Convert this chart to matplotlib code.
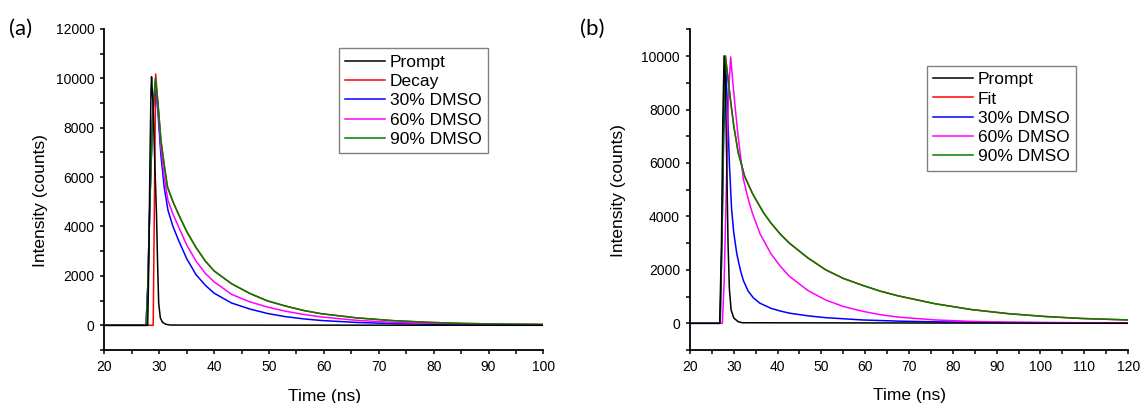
import matplotlib
matplotlib.use('Agg')
import matplotlib.pyplot as plt
from matplotlib.ticker import MultipleLocator

plt.rcParams['font.family'] = ['Liberation Sans', 'DejaVu Sans']

# ---- panel (a): values (time in ns, counts) ----
t_prompt_a = [20, 27.9, 28.1, 28.3, 28.5, 28.6, 28.9, 29.2, 29.5, 29.7, 29.9, 30.2, 30.6, 31.2, 32.0, 100]
i_prompt_a = [0, 0, 2500, 6500, 9500, 10060, 8800, 6500, 4500, 2500, 900, 300, 120, 40, 10, 0]

t_decay_a = [20, 28.9, 29.35, 29.8, 30.3, 30.9, 31.5, 32.5, 33.5, 35.0, 36.7, 38.4, 40.0, 43.2,
             46.5, 49.7, 53.0, 56.3, 59.5, 66.0, 72.5, 79.0, 85.5, 92.0, 100]
i_decay_a = [0, 0, 10170, 8900, 7500, 6500, 5600, 5000, 4500, 3800, 3150, 2600, 2200, 1680,
             1290, 990, 780, 600, 470, 300, 190, 120, 75, 50, 35]

t_30_a = [20, 27.6, 27.9, 28.3, 28.8, 29.3, 29.8, 30.3, 30.9, 31.6, 32.5, 33.5, 35.0, 36.7, 38.4,
          40.0, 43.2, 46.5, 49.7, 53.0, 56.3, 59.5, 66.0, 72.5, 79.0, 85.5, 92.0, 100]
i_30_a = [0, 0, 1500, 5000, 8500, 9800, 8500, 6900, 5600, 4650, 4000, 3450, 2700, 2050, 1620,
          1300, 900, 660, 480, 350, 260, 195, 115, 70, 45, 30, 20, 15]

t_60_a = [20, 27.6, 27.9, 28.3, 28.8, 29.3, 29.8, 30.3, 30.9, 31.6, 32.5, 33.5, 35.0, 36.7, 38.4,
          40.0, 43.2, 46.5, 49.7, 53.0, 56.3, 59.5, 66.0, 72.5, 79.0, 85.5, 92.0, 100]
i_60_a = [0, 0, 1500, 5000, 8500, 9900, 8700, 7200, 6000, 5050, 4500, 4000, 3250, 2600, 2100,
          1760, 1250, 950, 740, 570, 440, 340, 200, 120, 80, 55, 35, 25]

t_90_a = [20, 27.6, 27.9, 28.3, 28.8, 29.3, 29.8, 30.3, 30.9, 31.5, 32.5, 33.5, 35.0, 36.7, 38.4,
          40.0, 43.2, 46.5, 49.7, 53.0, 56.3, 59.5, 66.0, 72.5, 79.0, 85.5, 92.0, 100]
i_90_a = [0, 0, 1500, 5000, 8500, 10000, 8900, 7500, 6500, 5600, 5000, 4500, 3800, 3150, 2600,
          2200, 1680, 1290, 990, 780, 600, 470, 300, 190, 120, 75, 50, 35]

# ---- panel (b) ----
t_prompt_b = [20, 26.8, 27.2, 27.5, 27.8, 28.1, 28.4, 28.7, 29.0, 29.4, 30.0, 31.0, 32.0, 120]
i_prompt_b = [0, 0, 3000, 7500, 10010, 9000, 6000, 3000, 1300, 500, 200, 60, 20, 0]

t_30_b = [20, 26.9, 27.3, 27.7, 28.2, 28.6, 29.0, 29.5, 30.0, 30.7, 31.5, 32.2, 33.3, 34.5, 36.0,
          38.5, 40.6, 42.7, 46.9, 51.0, 59.4, 67.7, 76.0, 84.4, 101.0, 120]
i_30_b = [0, 0, 3000, 7000, 9500, 8000, 6000, 4300, 3400, 2600, 2000, 1600, 1200, 950, 750,
          560, 460, 380, 280, 210, 125, 80, 55, 40, 25, 15]

t_60_b = [20, 27.4, 27.8, 28.3, 28.8, 29.3, 29.8, 30.5, 31.0, 32.2, 33.3, 34.3, 36.0, 38.5, 40.56,
          42.7, 46.9, 51.0, 55.0, 59.4, 63.5, 67.7, 76.0, 84.4, 92.7, 101.0, 120]
i_60_b = [0, 0, 1500, 5000, 8500, 9970, 9000, 7800, 7000, 5400, 4650, 4100, 3350, 2600, 2150,
          1760, 1230, 870, 630, 450, 320, 230, 125, 70, 40, 25, 10]

t_90_b = [20, 26.9, 27.3, 27.7, 28.1, 28.6, 29.3, 30.0, 31.0, 32.5, 34.3, 36.75, 38.5, 40.56, 42.7,
          46.9, 51.0, 55.0, 59.4, 63.5, 67.7, 76.0, 84.4, 92.7, 101.0, 109.4, 120]
i_90_b = [0, 0, 3000, 7500, 10000, 9300, 8300, 7400, 6400, 5500, 4850, 4150, 3750, 3350, 3000,
          2450, 2000, 1680, 1420, 1200, 1020, 730, 510, 360, 255, 180, 125]

# fit in (b) follows the 90% trace from its peak on
t_fit_b = t_90_b[4:]
i_fit_b = i_90_b[4:]

fig = plt.figure(figsize=(11.43, 4.03), dpi=100)
ax1 = fig.add_axes([0.0913, 0.1315, 0.3841, 0.797])
ax2 = fig.add_axes([0.6036, 0.1315, 0.3834, 0.7955])

lw = 1.1
ax1.plot(t_decay_a, i_decay_a, color='#ff0000', lw=lw, label='Decay', zorder=2)
ax1.plot(t_30_a, i_30_a, color='#0000ff', lw=lw, label='30% DMSO', zorder=3)
ax1.plot(t_60_a, i_60_a, color='#ff00ff', lw=lw, label='60% DMSO', zorder=4)
ax1.plot(t_90_a, i_90_a, color='#008000', lw=lw, label='90% DMSO', zorder=5)
ax1.plot(t_prompt_a, i_prompt_a, color='black', lw=lw, label='Prompt', zorder=6)

ax2.plot(t_fit_b, i_fit_b, color='#ff0000', lw=lw, label='Fit', zorder=2)
ax2.plot(t_30_b, i_30_b, color='#0000ff', lw=lw, label='30% DMSO', zorder=3)
ax2.plot(t_60_b, i_60_b, color='#ff00ff', lw=lw, label='60% DMSO', zorder=4)
ax2.plot(t_90_b, i_90_b, color='#008000', lw=lw, label='90% DMSO', zorder=5)
ax2.plot(t_prompt_b, i_prompt_b, color='black', lw=lw, label='Prompt', zorder=6)

ax1.set_xlim(20, 100)
ax1.set_ylim(-1000, 12000)
ax2.set_xlim(20, 120)
ax2.set_ylim(-1000, 11000)

for ax, second, anchor, ylab_xy in [(ax1, 'Decay', (0.534, 0.939), (-0.128, 0.465)),
                                    (ax2, 'Fit', (0.540, 0.886), (-0.145, 0.496))]:
    for side in ['top', 'right']:
        ax.spines[side].set_visible(False)
    for side in ['left', 'bottom']:
        ax.spines[side].set_linewidth(1.3)
    ax.xaxis.set_major_locator(MultipleLocator(10))
    ax.xaxis.set_minor_locator(MultipleLocator(5))
    ax.yaxis.set_major_locator(MultipleLocator(2000))
    ax.yaxis.set_minor_locator(MultipleLocator(1000))
    ax.tick_params(which='both', direction='out', length=2.6, width=1.1, labelsize=10, pad=4.5)
    yt = [v for v in ax.get_yticks() if 0 <= v <= ax.get_ylim()[1]]
    ax.set_yticks(yt)
    ax.set_yticklabels([f'{int(v)}' for v in yt])
    ax.set_ylim(ax.get_ylim())
    ax.set_xlabel('Time (ns)', fontsize=12.5)
    ax.set_ylabel('Intensity (counts)', fontsize=12.5)
    ax.xaxis.set_label_coords(0.502, -0.12)
    ax.yaxis.set_label_coords(*ylab_xy)

    handles, labels = ax.get_legend_handles_labels()
    lookup = dict(zip(labels, handles))
    names = ['Prompt', second, '30% DMSO', '60% DMSO', '90% DMSO']
    leg = ax.legend([lookup[n] for n in names], names, loc='upper left', bbox_to_anchor=anchor,
                    borderaxespad=0, fontsize=12.5, frameon=True, fancybox=False,
                    edgecolor='#808080', framealpha=1, handlelength=2.3, handletextpad=0.3,
                    labelspacing=0.24, borderpad=0.35)
    leg.get_frame().set_linewidth(1.0)

fig.text(21 / 1143, 1 - 29 / 403, '(a)', fontsize=16, family=['Lato', 'DejaVu Sans'],
         ha='center', va='center')
fig.text(592 / 1143, 1 - 29 / 403, '(b)', fontsize=16, family=['Lato', 'DejaVu Sans'],
         ha='center', va='center')

fig.savefig('out.png', dpi=100)
